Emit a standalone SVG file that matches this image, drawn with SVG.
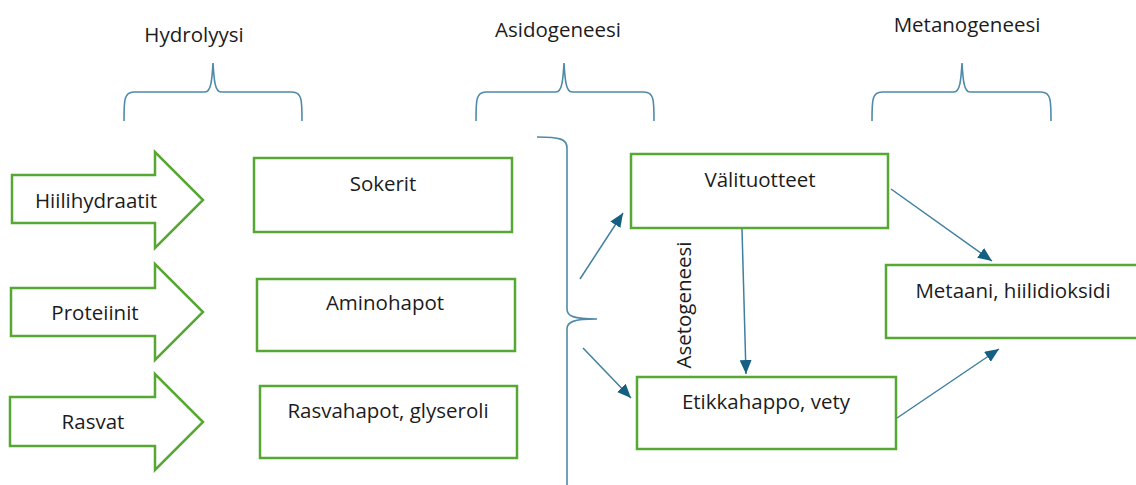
<svg xmlns="http://www.w3.org/2000/svg" width="1136" height="485" viewBox="0 0 1136 485">
<defs>
<style>
text{font-family:"Open Sans","Noto Sans","Liberation Sans",sans-serif;font-size:20.5px;fill:#1c1c1c;text-anchor:middle}
.box{fill:#fff;stroke:#56a832;stroke-width:2.5}
.brace{fill:none;stroke:#4f8aa8;stroke-width:1.6}
.conn{fill:none;stroke:#3f7f9f;stroke-width:1.5}
</style>
<marker id="ah" markerUnits="userSpaceOnUse" markerWidth="14" markerHeight="12" refX="14" refY="6" orient="auto">
<path d="M0,0 L14,6 L0,12 z" fill="#156082"/>
</marker>
</defs>
<rect width="1136" height="485" fill="#fff"/>

<g id="labels">
<text x="194" y="42">Hydrolyysi</text>
<text x="558" y="37">Asidogeneesi</text>
<text x="967" y="32">Metanogeneesi</text>
</g>

<g id="braces">
<path class="brace" d="M124,121 C124,100 124,92 134,92 L205,92 C211,92 212,80 213,63 C214,80 215,92 221,92 L292,92 C302,92 302,100 302,121"/>
<path class="brace" d="M476,121 C476,100 476,92 486,92 L556,92 C562,92 563,80 564,63 C565,80 566,92 572,92 L644,92 C654,92 654,100 654,121"/>
<path class="brace" d="M872,121 C872,100 872,92 882,92 L954,92 C960,92 961,80 962,63 C963,80 964,92 970,92 L1041,92 C1051,92 1051,100 1051,121"/>
<path class="brace" d="M537,137 C560,137 567,139 567,148 L567,309 C567,316 573,319 597,319 C573,319 567,322 567,329 L567,490"/>
</g>

<g id="n-hiilihydraatit">
<polygon class="box" points="12,175 155,175 155,152 203,200 155,248 155,223 12,223"/>
<text x="96" y="208">Hiilihydraatit</text>
</g>
<g id="n-proteiinit">
<polygon class="box" points="11,288 155,288 155,264 203,312 155,360 155,336 11,336"/>
<text x="95" y="320">Proteiinit</text>
</g>
<g id="n-rasvat">
<polygon class="box" points="10,397 155,397 155,374 203,422 155,470 155,446 10,446"/>
<text x="93" y="429">Rasvat</text>
</g>

<g id="n-sokerit">
<rect class="box" x="254" y="158" width="258" height="74"/>
<text x="383" y="191">Sokerit</text>
</g>
<g id="n-aminohapot">
<rect class="box" x="257" y="279" width="258" height="72"/>
<text x="385" y="310">Aminohapot</text>
</g>
<g id="n-rasvahapot">
<rect class="box" x="260" y="386" width="257" height="72"/>
<text x="388" y="418">Rasvahapot, glyseroli</text>
</g>

<g id="n-valituotteet">
<rect class="box" x="631" y="154" width="257" height="74"/>
<text x="760" y="187">Välituotteet</text>
</g>
<g id="n-etikkahappo">
<rect class="box" x="637" y="377" width="259" height="72"/>
<text x="766" y="409">Etikkahappo, vety</text>
</g>
<g id="n-metaani">
<rect class="box" x="886" y="265" width="260" height="73"/>
<text x="1013" y="298">Metaani, hiilidioksidi</text>
</g>

<g id="asetogeneesi">
<text transform="translate(691,305) rotate(-90)">Asetogeneesi</text>
</g>

<g id="connectors">
<line class="conn" x1="580" y1="279" x2="623" y2="213" marker-end="url(#ah)"/>
<line class="conn" x1="583" y1="348" x2="631" y2="398" marker-end="url(#ah)"/>
<line class="conn" x1="742" y1="229" x2="746" y2="374" marker-end="url(#ah)"/>
<line class="conn" x1="891" y1="189" x2="992" y2="261" marker-end="url(#ah)"/>
<line class="conn" x1="897" y1="418" x2="999" y2="349" marker-end="url(#ah)"/>
</g>
</svg>
